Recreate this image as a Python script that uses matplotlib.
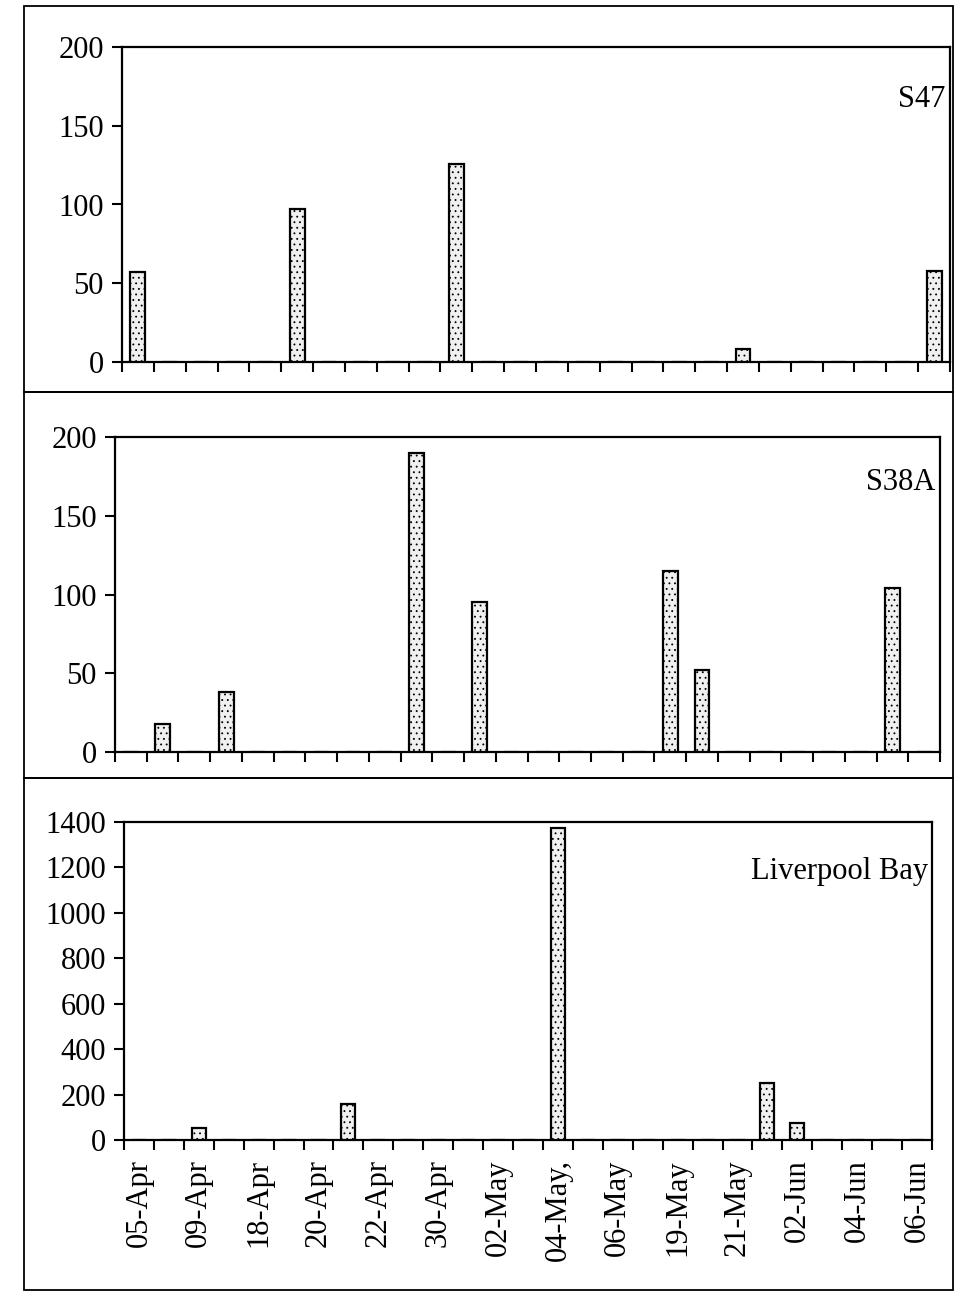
import matplotlib
matplotlib.use("Agg")
import matplotlib.pyplot as plt
from matplotlib.patches import Rectangle

plt.rcParams['font.family'] = ['Liberation Serif', 'DejaVu Serif']
plt.rcParams['hatch.color'] = "#b8b8b8"
plt.rcParams['hatch.linewidth'] = 0.6

# fechas del eje (una etiqueta cada dos categorias)
fechas = ["05-Apr", "09-Apr", "18-Apr", "20-Apr", "22-Apr", "30-Apr", "02-May",
          "04-May,", "06-May", "19-May", "21-May", "02-Jun", "04-Jun", "06-Jun"]

# valores por categoria (ceros = sin dato)
s47 = [57, 0, 0, 0, 0, 97, 0, 0, 0, 0, 126, 0, 0, 0, 0, 0, 0, 0, 0, 8,
       0, 0, 0, 0, 0, 58]
s38a = [0, 18, 0, 38, 0, 0, 0, 0, 0, 190, 0, 95, 0, 0, 0, 0, 0, 115, 52, 0,
        0, 0, 0, 0, 104, 0]
liverpool = [0, 0, 55, 0, 0, 0, 0, 160, 0, 0, 0, 0, 0, 0, 1375, 0, 0, 0, 0, 0,
             0, 250, 75, 0, 0, 0, 0]

W, H = 960, 1297
fig = plt.figure(figsize=(W / 100, H / 100), dpi=100)


def caja(x0, y0, x1, y1):
    # posiciones en pixeles de la imagen -> fraccion de figura
    return [x0 / W, 1 - y1 / H, (x1 - x0) / W, (y1 - y0) / H]


def panel(pos, valores, nombre, ymax, paso, ytxt, etiquetas=None):
    ax = fig.add_axes(caja(*pos))
    n = len(valores)
    x = list(range(n))
    ax.bar(x, valores, width=0.47, facecolor="#f0f0f0", edgecolor="black",
           linewidth=1.6, hatch="...", zorder=3)
    ax.set_xlim(-0.5, n - 0.5)
    ax.set_ylim(0, ymax)
    ax.set_yticks(range(0, ymax + 1, paso))
    ax.tick_params(axis="y", direction="out", length=7, width=1.5,
                   labelsize=22, pad=6)
    # marcas en los limites de categoria
    ax.set_xticks([i - 0.5 for i in range(n + 1)], minor=True)
    ax.tick_params(axis="x", which="minor", direction="out", length=7, width=1.5)
    if etiquetas:
        ax.set_xticks(range(0, n, 2))
        ax.set_xticklabels(etiquetas, rotation=90, fontsize=22)
        ax.tick_params(axis="x", which="major", length=0, pad=14)
    else:
        ax.set_xticks([])
    for s in ax.spines.values():
        s.set_linewidth(1.6)
    ax.text(0.995, ytxt, nombre, transform=ax.transAxes, ha="right",
            va="top", fontsize=22)
    return ax


panel((122, 47, 950, 362), s47, "S47", 200, 50, 0.88)
panel((115, 437, 940, 752), s38a, "S38A", 200, 50, 0.90)
panel((124, 822, 932, 1140), liverpool, "Liverpool Bay", 1400, 200, 0.89, fechas)

# marcos de cada grafico
for y0, y1 in [(6, 392), (392, 778), (778, 1290)]:
    r = Rectangle((24 / W, 1 - y1 / H), (953 - 24) / W, (y1 - y0) / H,
                  transform=fig.transFigure, fill=False, edgecolor="black",
                  linewidth=1.3)
    fig.add_artist(r)

fig.savefig("out.png", dpi=100, facecolor="white")
